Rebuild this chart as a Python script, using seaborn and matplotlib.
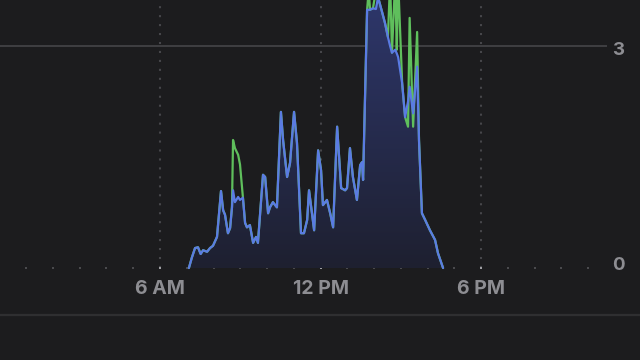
import numpy as np
import pandas as pd
import matplotlib
matplotlib.use("Agg")
import matplotlib.pyplot as plt
import seaborn as sns
from matplotlib.colors import LinearSegmentedColormap
from matplotlib.patches import Polygon

# ---- data (hour of day, value) ----
hours = [7.08, 7.19, 7.31, 7.42, 7.52, 7.61, 7.76, 7.87, 7.98, 8.13,
         8.28, 8.36, 8.43, 8.54, 8.62, 8.69, 8.73, 8.80, 8.92, 8.99,
         9.10, 9.18, 9.25, 9.36, 9.48, 9.59, 9.66, 9.85, 9.93, 10.04,
         10.11, 10.22, 10.37, 10.52, 10.60, 10.75, 10.86, 11.01, 11.12, 11.27,
         11.38, 11.50, 11.57, 11.68, 11.76, 11.91, 12.02, 12.09, 12.24, 12.36,
         12.47, 12.62, 12.77, 12.92, 12.99, 13.10, 13.21, 13.36, 13.48, 13.55,
         13.59, 13.74, 13.80, 13.85, 13.96, 14.07, 14.15, 14.30, 14.41, 14.52,
         14.60, 14.67, 14.79, 14.85, 14.90, 15.05, 15.16, 15.27, 15.33, 15.46,
         15.61, 15.68, 15.79, 15.91, 16.09, 16.28, 16.39, 16.58]
blue_values = [0.00, 0.14, 0.27, 0.28, 0.19, 0.24, 0.22, 0.27, 0.30, 0.42,
               1.04, 0.78, 0.72, 0.47, 0.54, 0.82, 1.05, 0.89, 0.96, 0.92,
               0.95, 0.61, 0.55, 0.58, 0.34, 0.42, 0.34, 1.26, 1.23, 0.74,
               0.82, 0.89, 0.82, 2.11, 1.73, 1.23, 1.42, 2.11, 1.69, 0.47,
               0.47, 0.65, 1.05, 0.74, 0.51, 1.59, 1.32, 0.85, 0.92, 0.74,
               0.55, 1.91, 1.08, 1.05, 1.08, 1.62, 1.23, 0.92, 1.39, 1.43,
               1.19, 3.49, 3.49, 3.49, 3.51, 3.50, 3.66, 3.46, 3.31, 3.12,
               3.00, 2.91, 2.95, 2.90, 2.85, 2.50, 2.04, 2.25, 2.45, 2.09,
               2.72, 1.73, 0.74, 0.65, 0.51, 0.38, 0.20, 0.00]
green_values = [0.00, 0.14, 0.27, 0.28, 0.19, 0.24, 0.22, 0.27, 0.30, 0.42,
                1.04, 0.78, 0.72, 0.47, 0.54, 0.82, 1.73, 1.62, 1.53, 1.40,
                0.95, 0.61, 0.55, 0.58, 0.34, 0.42, 0.34, 1.26, 1.23, 0.74,
                0.82, 0.89, 0.82, 2.11, 1.73, 1.23, 1.42, 2.11, 1.69, 0.47,
                0.47, 0.65, 1.05, 0.74, 0.51, 1.59, 1.32, 0.85, 0.92, 0.74,
                0.55, 1.91, 1.08, 1.05, 1.08, 1.62, 1.23, 0.92, 1.39, 1.43,
                1.19, 3.49, 3.75, 3.49, 3.51, 3.75, 3.66, 3.46, 3.31, 3.12,
                3.90, 2.91, 3.90, 2.95, 3.90, 2.50, 2.04, 1.91, 3.38, 1.91,
                3.19, 1.73, 0.74, 0.65, 0.51, 0.38, 0.20, 0.00]
x_ticks = [6, 12, 18]
x_labels = ["6 AM", "12 PM", "6 PM"]
y_ticks = [0, 3]
y_labels = ["0", "3"]
hour_marks = list(range(0, 23))

BG = "#1c1c1e"
sns.set_style("dark", rc={"axes.facecolor": BG, "figure.facecolor": BG})
plt.rcParams["font.family"] = ["Inter", "DejaVu Sans"]

df = pd.DataFrame({"hour": hours, "blue": blue_values, "green": green_values})

fig = plt.figure(figsize=(6.4, 3.6), dpi=100)
ax = fig.add_axes([0, 45 / 360, 1, 315 / 360])
xmin, xmax = 0.02, 23.94
ymin, ymax = -0.635, 3.622

# grid elements
ax.hlines(y_ticks[1], xmin, 22.7, color="#3f3f42", lw=1.4, zorder=1)
ax.vlines(x_ticks, 0, ymax, color="#46464a", lw=1.5,
          linestyles=[(0, (1, 3.3))], zorder=1)
ax.scatter(hour_marks, [0] * len(hour_marks), marker="s", s=2.2,
           color="#4a4a4d", linewidths=0, zorder=1)
ax.scatter(x_ticks, [0] * len(x_ticks), marker="s", s=3.0,
           color="#a0a0a4", linewidths=0, zorder=1)

# gradient fill under blue line
grad = LinearSegmentedColormap.from_list("g", ["#1e2030", "#2e376c"])
img = ax.imshow(np.linspace(0, 1, 256).reshape(-1, 1), cmap=grad,
                origin="lower", aspect="auto",
                extent=(hours[0], hours[-1], 0, 3.7), zorder=2)
poly = Polygon(np.column_stack([[hours[0]] + hours + [hours[-1]],
                                [0] + blue_values + [0]]),
               closed=True, facecolor="none", edgecolor="none")
ax.add_patch(poly)
img.set_clip_path(poly)

sns.lineplot(data=df, x="hour", y="green", ax=ax, color="#5fbf5c",
             lw=1.6, zorder=3, sort=False)
sns.lineplot(data=df, x="hour", y="blue", ax=ax, color="#5a7be3",
             lw=1.6, zorder=4, sort=False)
ax.set_xlim(xmin, xmax)
ax.set_ylim(ymin, ymax)

# labels
for xt, lab in zip(x_ticks, x_labels):
    ax.text(xt, -0.28, lab, ha="center", va="center", fontsize=14,
            fontweight="bold", color="#8d8d92", clip_on=False)
for yt, lab, off in zip(y_ticks, y_labels, [0.03, -0.06]):
    ax.text(23.14, yt + off, lab, ha="center", va="center", fontsize=13.5,
            fontweight="bold", color="#8d8d92")

ax.set_xticks([])
ax.set_yticks([])
ax.set_xlabel("")
ax.set_ylabel("")
for s in ["top", "left", "right"]:
    ax.spines[s].set_visible(False)
ax.spines["bottom"].set_visible(True)
ax.spines["bottom"].set_color("#2f2f31")
ax.spines["bottom"].set_linewidth(1.6)
ax.grid(False)

fig.savefig("out.png", dpi=100, facecolor=BG)
